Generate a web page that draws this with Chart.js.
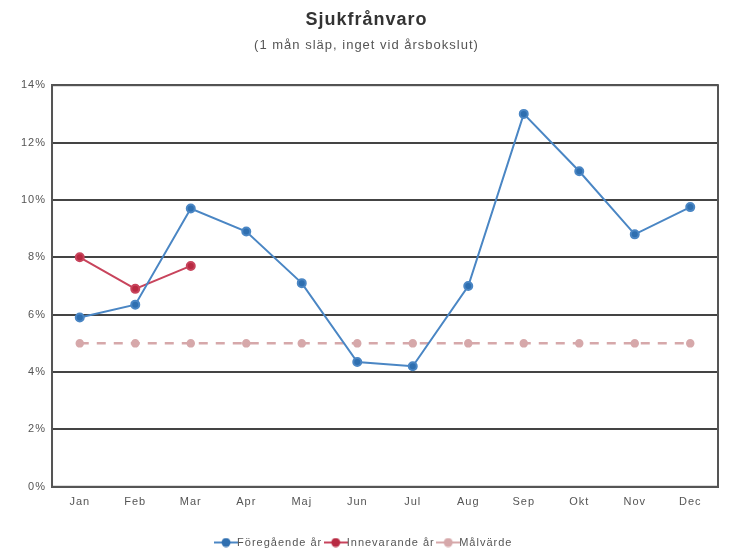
<!DOCTYPE html>
<html>
<head>
<meta charset="utf-8">
<script src="https://cdn.jsdelivr.net/npm/chart.js@4/dist/chart.umd.min.js"></script>
<style>
  html, body { margin: 0; padding: 0; background: #fff; }
  #wrap { width: 731px; height: 554px; }
</style>
</head>
<body>
<div id="wrap"><canvas id="sjukChart"></canvas></div>
<script>
// Data läst från diagrammet
const months = ['Jan', 'Feb', 'Mar', 'Apr', 'Maj', 'Jun', 'Jul', 'Aug', 'Sep', 'Okt', 'Nov', 'Dec'];
const previousYear = [5.9, 6.35, 9.7, 8.9, 7.1, 4.35, 4.2, 7.0, 13.0, 11.0, 8.8, 9.75];
const currentYear = [8.0, 6.9, 7.7, null, null, null, null, null, null, null, null, null];
const targetValue = [5, 5, 5, 5, 5, 5, 5, 5, 5, 5, 5, 5];
const yTicks = [0, 2, 4, 6, 8, 10, 12, 14];

// liten symbol för legenden: linje genom en punkt
function legendMarker(lineColor, dotColor) {
    const c = document.createElement('canvas');
    c.width = 24;
    c.height = 10;
    const g = c.getContext('2d');
    g.strokeStyle = lineColor;
    g.lineWidth = 2;
    g.beginPath();
    g.moveTo(0, 5);
    g.lineTo(24, 5);
    g.stroke();
    g.fillStyle = dotColor;
    g.beginPath();
    g.arc(12, 5, 4.5, 0, Math.PI * 2);
    g.fill();
    return c;
}

// originalet har luftig text, så vi sätter lite teckenavstånd
const spacing = {
    id: 'spacing',
    beforeLayout(chart) { chart.ctx.letterSpacing = '1px'; },
    beforeDraw(chart) { chart.ctx.letterSpacing = '1px'; }
};

const ctx = document.getElementById('sjukChart').getContext('2d');
const sjukChart = new Chart(ctx, {
    type: 'line',
    data: {
        labels: months,
        datasets: [{
            label: 'Föregående år',
            data: previousYear,
            borderColor: '#4a86c4',
            backgroundColor: '#2f6fb0',
            borderWidth: 2,
            pointRadius: 4,
            pointHoverRadius: 4,
            tension: 0
        }, {
            label: 'Innevarande år',
            data: currentYear,
            borderColor: '#c8445c',
            backgroundColor: '#b82a42',
            borderWidth: 2,
            pointRadius: 4,
            pointHoverRadius: 4,
            tension: 0
        }, {
            label: 'Målvärde',
            data: targetValue,
            borderColor: '#d6a8aa',
            backgroundColor: '#d6a8aa',
            borderWidth: 2.5,
            borderDash: [9, 8],
            pointRadius: 3,
            pointHoverRadius: 3,
            tension: 0
        }]
    },
    options: {
        responsive: true,
        maintainAspectRatio: false,
        animation: false,
        layout: { padding: { left: 15, right: 13, top: 4, bottom: -4 } },
        plugins: {
            title: {
                display: true,
                text: 'Sjukfrånvaro',
                color: '#333',
                font: { family: 'Liberation Sans', size: 18, weight: 'bold' },
                padding: { top: 5, bottom: 7 }
            },
            subtitle: {
                display: true,
                text: '(1 mån släp, inget vid årsbokslut)',
                color: '#555',
                font: { family: 'Liberation Sans', size: 13 },
                padding: { bottom: 32 }
            },
            legend: {
                position: 'bottom',
                labels: {
                    usePointStyle: true,
                    padding: 8,
                    color: '#555',
                    font: { family: 'Liberation Sans', size: 11 },
                    generateLabels(chart) {
                        return chart.data.datasets.map((ds, i) => ({
                            text: ds.label,
                            fontColor: '#555',
                            pointStyle: legendMarker(ds.borderColor, ds.backgroundColor),
                            datasetIndex: i,
                            hidden: false,
                            lineWidth: 0
                        }));
                    }
                }
            },
            tooltip: { enabled: false }
        },
        scales: {
            x: {
                offset: true,
                grid: { display: false, drawTicks: false },
                border: { display: true, color: '#555', width: 2 },
                ticks: {
                    color: '#555',
                    padding: 9,
                    font: { family: 'Liberation Sans', size: 11 }
                },
                afterFit: (axis) => { axis.height += 11; }
            },
            y: {
                min: 0,
                max: 14,
                afterBuildTicks: (axis) => { axis.ticks = yTicks.map(v => ({ value: v })); },
                grid: { color: '#444', lineWidth: 2, drawTicks: false },
                border: { display: true, color: '#555', width: 2 },
                ticks: {
                    color: '#555',
                    padding: 6,
                    font: { family: 'Liberation Sans', size: 11 },
                    callback: (v) => v + '%'
                }
            }
        }
    },
    plugins: [spacing, {
        id: 'plotBorder',
        afterDatasetsDraw(chart) {
            const a = chart.chartArea;
            const c = chart.ctx;
            c.save();
            c.strokeStyle = '#555';
            c.lineWidth = 2;
            c.strokeRect(a.left, a.top, a.right - a.left, a.bottom - a.top);
            c.restore();
        }
    }]
});
</script>
</body>
</html>
